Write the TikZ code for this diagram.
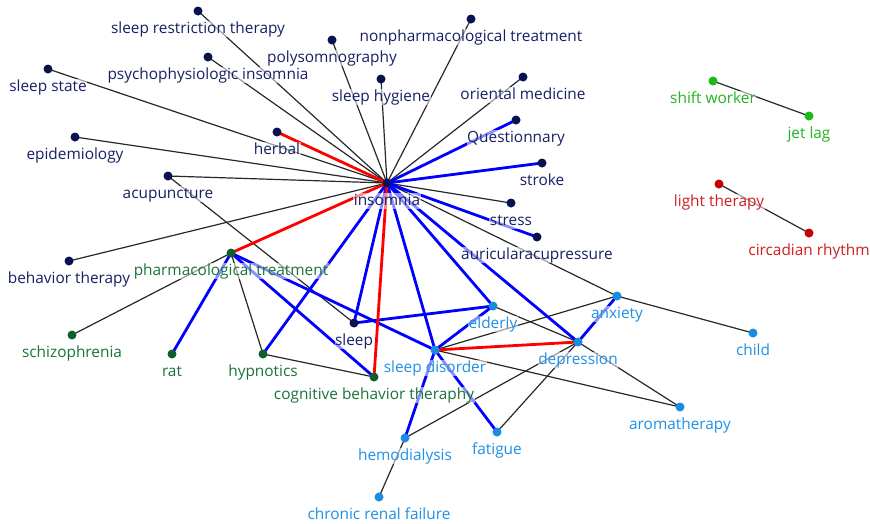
\documentclass[tikz,border=0pt]{standalone}
\usepackage{fontspec}
\setmainfont{Open Sans}
\definecolor{navyD}{RGB}{8,18,80}
\definecolor{navyT}{RGB}{24,32,100}
\definecolor{dgrD}{RGB}{15,95,45}
\definecolor{dgrT}{RGB}{28,115,58}
\definecolor{lbD}{RGB}{25,140,225}
\definecolor{lbT}{RGB}{30,144,230}
\definecolor{grD}{RGB}{25,185,25}
\definecolor{grT}{RGB}{34,180,34}
\definecolor{rdD}{RGB}{200,0,0}
\definecolor{rdT}{RGB}{210,30,30}
\definecolor{eBlue}{RGB}{0,0,255}
\definecolor{eRed}{RGB}{255,0,0}
\definecolor{eBlack}{RGB}{40,40,40}
\pgfdeclarelayer{bg}
\pgfsetlayers{bg,main}
\tikzset{
  lbl/.style={font=\fontsize{15.4}{18}\selectfont, text height=11.5pt, text depth=3.5pt, inner sep=0.5pt,
    fill=white, fill opacity=0.55, text opacity=1},
  dotbase/.style={circle, minimum size=9pt, inner sep=0pt, outer sep=0pt},
  dn/.style={dotbase, fill=navyD, label={[lbl, text=navyT]below:#1}},
  dg/.style={dotbase, fill=dgrD, label={[lbl, text=dgrT]below:#1}},
  db/.style={dotbase, fill=lbD, label={[lbl, text=lbT]below:#1}},
  dgg/.style={dotbase, fill=grD, label={[lbl, text=grT]below:#1}},
  dr/.style={dotbase, fill=rdD, label={[lbl, text=rdT]below:#1}},
  eb/.style={draw=eBlack, line width=1.2pt},
  eu/.style={draw=eBlue, line width=2.8pt},
  er/.style={draw=eRed, line width=2.8pt},
}
\begin{document}
\begin{tikzpicture}[x=1pt, y=-1pt, label distance=5.5pt]
\useasboundingbox (0,0) rectangle (870,523);
% navy nodes
\node[dn={sleep restriction therapy}] (srt) at (198,11) {};
\node[dn={psychophysiologic insomnia}] (psy) at (208,57) {};
\node[dn={polysomnography}] (poly) at (332,40) {};
\node[dn={sleep hygiene}] (hyg) at (381,79) {};
\node[dn={nonpharmacological treatment}] (nph) at (471,19) {};
\node[dn={oriental medicine}] (ori) at (523,77) {};
\node[dn={Questionnary}] (que) at (516,120) {};
\node[dn={stroke}] (str) at (542,163) {};
\node[dn={stress}] (sts) at (511,203) {};
\node[dn={auricularacupressure}] (aur) at (537,237) {};
\node[dn={insomnia}] (ins) at (387,183) {};
\node[dn={herbal}] (her) at (277,132) {};
\node[dn={sleep state}] (sst) at (48,69) {};
\node[dn={epidemiology}] (epi) at (75,137) {};
\node[dn={acupuncture}] (acu) at (168,176) {};
\node[dn={behavior therapy}] (beh) at (69,261) {};
\node[dn={sleep}] (slp) at (354,323) {};
% dark green nodes
\node[dg={pharmacological treatment}] (pha) at (231,253) {};
\node[dg={schizophrenia}] (sch) at (72,335) {};
\node[dg={rat}] (rat) at (172,354) {};
\node[dg={hypnotics}] (hyp) at (263,354) {};
\node[dg={cognitive behavior theraphy}] (cbt) at (374,377) {};
% light blue nodes
\node[db={elderly}] (eld) at (493,306) {};
\node[db={anxiety}] (anx) at (617,296) {};
\node[db={depression}] (dep) at (578,342) {};
\node[db={sleep disorder}] (sd) at (435,350) {};
\node[db={child}] (chi) at (753,333) {};
\node[db={aromatherapy}] (aro) at (680,407) {};
\node[db={hemodialysis}] (hem) at (405,438) {};
\node[db={fatigue}] (fat) at (497,432) {};
\node[db={chronic renal failure}] (crf) at (379,497) {};
% green and red
\node[dgg={shift worker}] (shw) at (713,81) {};
\node[dgg={jet lag}] (jet) at (809,116) {};
\node[dr={light therapy}] (lth) at (719,184) {};
\node[dr={circadian rhythm}] (cir) at (809,233) {};
\begin{pgfonlayer}{bg}
\fill[white] (0,0) rectangle (870,523);
% black edges
\foreach \t in {srt,psy,poly,hyg,nph,ori,sst,epi,acu,beh,sts,anx}
  \draw[eb] (ins.center) -- (\t.center);
\draw[eb] (acu.center) -- (slp.center);
\draw[eb] (pha.center) -- (sch.center);
\draw[eb] (pha.center) -- (hyp.center);
\draw[eb] (hyp.center) -- (cbt.center);
\draw[eb] (sd.center) -- (anx.center);
\draw[eb] (sd.center) -- (aro.center);
\draw[eb] (eld.center) -- (dep.center);
\draw[eb] (dep.center) -- (aro.center);
\draw[eb] (dep.center) -- (hem.center);
\draw[eb] (dep.center) -- (fat.center);
\draw[eb] (hem.center) -- (crf.center);
\draw[eb] (anx.center) -- (chi.center);
\draw[eb] (shw.center) -- (jet.center);
\draw[eb] (lth.center) -- (cir.center);
% blue edges
\foreach \t in {que,str,aur,eld,dep,sd,slp,hyp}
  \draw[eu] (ins.center) -- (\t.center);
\draw[eu] (pha.center) -- (rat.center);
\draw[eu] (pha.center) -- (cbt.center);
\draw[eu] (pha.center) -- (sd.center);
\draw[eu] (slp.center) -- (eld.center);
\draw[eu] (sd.center) -- (eld.center);
\draw[eu] (sd.center) -- (hem.center);
\draw[eu] (sd.center) -- (fat.center);
\draw[eu] (dep.center) -- (anx.center);
% red edges
\draw[er] (ins.center) -- (her.center);
\draw[er] (ins.center) -- (pha.center);
\draw[er] (ins.center) -- (cbt.center);
\draw[er] (sd.center) -- (dep.center);
\end{pgfonlayer}
\end{tikzpicture}
\end{document}
